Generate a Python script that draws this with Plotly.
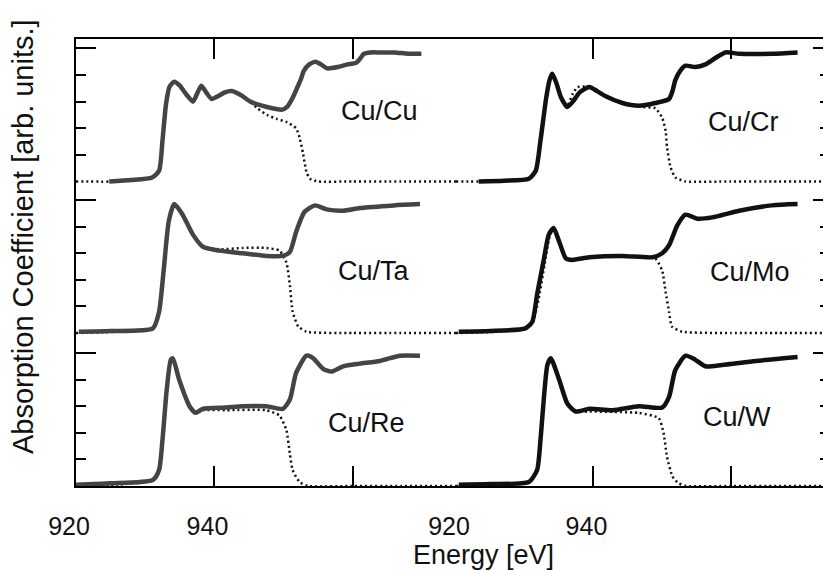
import plotly.graph_objects as go

# ---------------- data (energy in eV, normalized absorption) ----------------
panel_names = ["Cu/Cu", "Cu/Cr", "Cu/Ta", "Cu/Mo", "Cu/Re", "Cu/W"]
panel_offsets = [2.29, 2.29, 1.15, 1.15, 0.0, 0.0]   # vertical stacking per row
panel_column = [0, 1, 0, 1, 0, 1]

# Cu/Cu
cucu_solid_e = [924.8, 928, 931.0, 932.0, 932.5, 933.0, 933.5, 934.2, 935.0, 936.0, 936.9, 937.5,
                938.1, 938.8, 939.6, 940.5, 941.5, 942.5, 943.8, 945.2, 947.6, 949.8, 950.5, 951.0,
                951.5, 952.0, 952.5, 952.9, 953.7, 954.6, 955.4, 956.3, 957.8, 959.2, 960.4, 961.0,
                961.6, 962.6, 964.0, 966.0, 968.0, 969.9]
cucu_solid_v = [0.0, 0.01, 0.03, 0.08, 0.31, 0.58, 0.71, 0.75, 0.72, 0.65, 0.60, 0.66,
                0.72, 0.67, 0.62, 0.64, 0.67, 0.68, 0.65, 0.60, 0.56, 0.54, 0.56, 0.60,
                0.65, 0.71, 0.77, 0.83, 0.88, 0.90, 0.88, 0.85, 0.86, 0.88, 0.89, 0.92,
                0.96, 0.97, 0.97, 0.97, 0.96, 0.96]
cucu_dot_e = [920, 926, 931.0, 932.0, 932.5, 933.0, 933.5, 934.2, 935.0, 936.0, 936.9, 937.5, 938.1,
              938.8, 939.6, 940.5, 941.5, 942.5, 943.8, 945.2, 946.2, 947.6, 949.0, 950.5, 951.8,
              952.3, 952.8, 953.3, 953.8, 955.0, 960, 967, 975]
cucu_dot_v = [0, 0.0, 0.03, 0.08, 0.31, 0.58, 0.71, 0.75, 0.72, 0.65, 0.60, 0.66, 0.72,
              0.67, 0.62, 0.64, 0.67, 0.68, 0.65, 0.60, 0.55, 0.50, 0.47, 0.445, 0.40,
              0.33, 0.21, 0.07, 0.02, 0.0, 0.0, 0.0, 0.0]

# Cu/Cr
cucr_solid_e = [923.3, 927, 930.6, 931.6, 932.3, 933.1, 933.6, 934.0, 934.6, 935.3, 936.2, 937.0,
                938.0, 939.4, 940.5, 941.8, 944.2, 946.6, 949.0, 951.0, 951.5, 951.9, 952.6, 953.4,
                954.8, 956.3, 957.8, 959.2, 961.2, 966.0, 969.7]
cucr_solid_v = [0.0, 0.005, 0.02, 0.08, 0.31, 0.62, 0.76, 0.81, 0.74, 0.63, 0.56, 0.60,
                0.67, 0.71, 0.68, 0.64, 0.59, 0.57, 0.59, 0.62, 0.68, 0.76, 0.83, 0.87,
                0.86, 0.88, 0.93, 0.97, 0.96, 0.96, 0.97]
cucr_dot_e = [920, 926, 930.6, 931.6, 932.3, 933.1, 933.6, 934.0, 934.6, 935.3, 936.2, 937.0, 937.7,
              939.4, 940.5, 941.8, 944.2, 947.1, 949.0, 950.0, 950.5, 950.7, 951.2, 951.9, 953.4,
              960, 967, 975]
cucr_dot_v = [0, 0.0, 0.02, 0.07, 0.28, 0.60, 0.76, 0.81, 0.74, 0.63, 0.57, 0.66, 0.71,
              0.71, 0.68, 0.64, 0.59, 0.56, 0.55, 0.48, 0.38, 0.26, 0.11, 0.03, 0.0,
              0.0, 0.0, 0.0]

# Cu/Ta
cuta_solid_e = [920.4, 925, 931.1, 932.0, 932.7, 933.4, 934.2, 935.4, 936.9, 938.3, 940.7, 944.1,
                947.5, 949.9, 950.9, 951.8, 953.0, 954.5, 956.2, 958.6, 961.0, 965.9, 969.7]
cuta_solid_v = [0.01, 0.015, 0.035, 0.16, 0.49, 0.84, 0.97, 0.89, 0.74, 0.65, 0.62, 0.60,
                0.58, 0.58, 0.61, 0.76, 0.91, 0.96, 0.93, 0.92, 0.94, 0.96, 0.97]
cuta_dot_e = [920, 926, 931.1, 932.0, 932.7, 933.4, 934.2, 935.4, 936.9, 938.3, 940.7, 944.1, 947.5,
              949.4, 950.4, 950.9, 951.3, 952.1, 953.3, 960, 967, 975]
cuta_dot_v = [0, 0.01, 0.035, 0.16, 0.49, 0.84, 0.97, 0.89, 0.74, 0.65, 0.63, 0.64, 0.64,
              0.62, 0.53, 0.36, 0.16, 0.05, 0.01, 0.0, 0.0, 0.0]

# Cu/Mo
cumo_solid_e = [920.4, 925, 930.1, 931.1, 931.8, 932.8, 933.5, 934.2, 935.0, 936.0, 936.9, 939.4,
                944.2, 948.6, 950.0, 951.0, 952.2, 953.4, 955.1, 957.3, 961.2, 966.0, 969.7]
cumo_solid_v = [0.01, 0.015, 0.035, 0.085, 0.29, 0.56, 0.74, 0.79, 0.69, 0.56, 0.55, 0.57,
                0.58, 0.57, 0.60, 0.66, 0.81, 0.89, 0.86, 0.87, 0.92, 0.96, 0.97]
cumo_dot_e = [920, 926, 930.1, 931.1, 932.0, 932.9, 933.6, 934.2, 935.0, 936.0, 936.9, 939.4, 944.2,
              949.0, 950.0, 950.5, 951.0, 951.4, 952.9, 960, 967, 975]
cumo_dot_v = [0, 0.01, 0.03, 0.07, 0.25, 0.52, 0.72, 0.79, 0.69, 0.56, 0.55, 0.57, 0.58,
              0.56, 0.47, 0.31, 0.16, 0.05, 0.01, 0.0, 0.0, 0.0]

# Cu/Re
cure_solid_e = [920.0, 925, 931.1, 932.0, 932.5, 933.1, 933.7, 934.0, 934.9, 936.4, 937.3, 938.3,
                941.7, 944.1, 947.5, 949.9, 950.9, 951.8, 953.3, 954.3, 955.7, 956.9, 958.6, 961.0,
                963.9, 966.8, 969.7]
cure_solid_v = [0.01, 0.02, 0.045, 0.12, 0.35, 0.72, 0.95, 0.96, 0.80, 0.60, 0.55, 0.58,
                0.59, 0.60, 0.60, 0.58, 0.65, 0.85, 0.98, 0.96, 0.88, 0.86, 0.90, 0.92,
                0.94, 0.98, 0.98]
cure_dot_e = [920, 926, 931.1, 932.0, 932.5, 933.1, 933.7, 934.0, 934.9, 936.4, 937.3, 938.3, 941.7,
              947.5, 949.4, 950.4, 950.9, 951.3, 952.3, 953.5, 960, 967, 975]
cure_dot_v = [0, 0.01, 0.045, 0.12, 0.35, 0.72, 0.95, 0.96, 0.80, 0.60, 0.55, 0.57, 0.57,
              0.57, 0.53, 0.42, 0.24, 0.12, 0.03, 0.0, 0.0, 0.0, 0.0]

# Cu/W
cuw_solid_e = [920.4, 925, 930.6, 931.8, 932.3, 932.8, 933.3, 933.8, 935.0, 936.2, 937.4, 939.4,
               942.8, 946.6, 950.0, 951.0, 951.9, 953.4, 954.8, 956.3, 958.7, 963.6, 969.7]
cuw_solid_v = [0.01, 0.015, 0.03, 0.12, 0.35, 0.67, 0.91, 0.96, 0.80, 0.62, 0.56, 0.58,
               0.57, 0.60, 0.59, 0.67, 0.87, 0.98, 0.95, 0.90, 0.91, 0.94, 0.97]
cuw_dot_e = [920, 926, 930.6, 931.8, 932.3, 932.8, 933.3, 933.8, 935.0, 936.2, 937.4, 939.4, 946.6,
             949.5, 950.2, 950.7, 951.5, 952.4, 953.5, 960, 967, 975]
cuw_dot_v = [0, 0.01, 0.03, 0.12, 0.35, 0.67, 0.91, 0.96, 0.80, 0.62, 0.56, 0.56, 0.55,
             0.51, 0.40, 0.22, 0.07, 0.02, 0.0, 0.0, 0.0, 0.0]

# label positions (energy, height above panel baseline)
label_e = [963.8, 961.9, 963.0, 962.8, 962.0, 960.9]
label_v = [0.53, 0.45, 0.47, 0.46, 0.47, 0.52]

x_tick_vals = [920, 940, 960]
x_tick_text = ["920", "940", ""]
left_range = [920, 974.9]
right_range = [920, 973.4]
y_top = 3.361
major_tick_steps = [1.0]
minor_tick_steps = [0.2, 0.4, 0.6, 0.8]

solids = [(cucu_solid_e, cucu_solid_v), (cucr_solid_e, cucr_solid_v), (cuta_solid_e, cuta_solid_v),
          (cumo_solid_e, cumo_solid_v), (cure_solid_e, cure_solid_v), (cuw_solid_e, cuw_solid_v)]
dots = [(cucu_dot_e, cucu_dot_v), (cucr_dot_e, cucr_dot_v), (cuta_dot_e, cuta_dot_v),
        (cumo_dot_e, cumo_dot_v), (cure_dot_e, cure_dot_v), (cuw_dot_e, cuw_dot_v)]

# ---------------- figure ----------------
fig = go.Figure()
FONT = "Liberation Sans, Arial, Helvetica, sans-serif"
for i, name in enumerate(panel_names):
    off = panel_offsets[i]
    col = panel_column[i]
    xa, ya = ("x", "y") if col == 0 else ("x2", "y2")
    de, dv = dots[i]
    fig.add_trace(go.Scatter(x=de, y=[v + off for v in dv], xaxis=xa, yaxis=ya, mode="lines",
                             line=dict(color="#111111", width=2.5, dash="2px,3px", shape="spline",
                                       smoothing=0.5),
                             showlegend=False, hoverinfo="skip"))
    se, sv = solids[i]
    fig.add_trace(go.Scatter(x=se, y=[v + off for v in sv], xaxis=xa, yaxis=ya, mode="lines",
                             line=dict(color="#444444" if col == 0 else "#111111", width=4.5,
                                       shape="spline", smoothing=0.6),
                             showlegend=False, hoverinfo="skip", name=name))
    fig.add_annotation(x=label_e[i], y=label_v[i] + off, xref=xa, yref=ya, text=name,
                       showarrow=False, font=dict(family=FONT, size=27, color="#111111"))

row_offsets = sorted(set(panel_offsets))
major_vals = [o + s for o in row_offsets for s in major_tick_steps]
minor_vals = [o + s for o in row_offsets for s in minor_tick_steps]

split = 0.5087
xcommon = dict(showline=True, linecolor="black", linewidth=2, mirror="ticks", ticks="inside",
               ticklen=20, tickwidth=2, tickcolor="black", tickmode="array",
               tickvals=x_tick_vals, ticktext=x_tick_text, showgrid=False, zeroline=False,
               tickfont=dict(family=FONT, size=25, color="#111111"),
               ticklabelstandoff=17, ticklabelshift=-7, automargin=False)
fig.update_layout(
    width=823, height=570,
    margin=dict(l=76, r=0, t=39, b=84, autoexpand=False),
    paper_bgcolor="white", plot_bgcolor="white",
    xaxis=dict(domain=[0, split], range=left_range, anchor="y", **xcommon),
    xaxis2=dict(domain=[split, 1], range=right_range, anchor="y2", **xcommon),
    yaxis=dict(range=[0, y_top], anchor="x", showline=True, linecolor="black", linewidth=2,
               mirror=False, ticks="inside", ticklen=20, tickwidth=2, tickcolor="black",
               tickmode="array", tickvals=major_vals, showticklabels=False, showgrid=False,
               zeroline=False, automargin=False,
               minor=dict(tickmode="array", tickvals=minor_vals, ticks="inside", ticklen=10,
                          tickwidth=2, tickcolor="black", showgrid=False)),
    yaxis2=dict(range=[0, y_top], anchor="x2", side="right", showline=False, ticks="inside",
                ticklen=10, tickwidth=2, tickcolor="black", tickmode="array",
                tickvals=major_vals, showticklabels=False, showgrid=False, zeroline=False,
                automargin=False,
                minor=dict(tickmode="array", tickvals=minor_vals, ticks="inside", ticklen=3,
                           tickwidth=2, tickcolor="black", showgrid=False)),
)
fig.add_annotation(x=0.546, y=-0.19, xref="paper", yref="paper", text="Energy [eV]",
                   showarrow=False, xanchor="center", yanchor="bottom", borderpad=0,
                   font=dict(family=FONT, size=27, color="#111111"))
fig.add_annotation(x=-0.071, y=0.559, xref="paper", yref="paper",
                   text="Absorption Coefficient [arb. units.]", textangle=-90,
                   showarrow=False, xanchor="center", yanchor="middle",
                   font=dict(family=FONT, size=29, color="#111111"))

fig.write_html("out.html", config={"displayModeBar": False},
               post_script="document.body.style.margin='0px';")
